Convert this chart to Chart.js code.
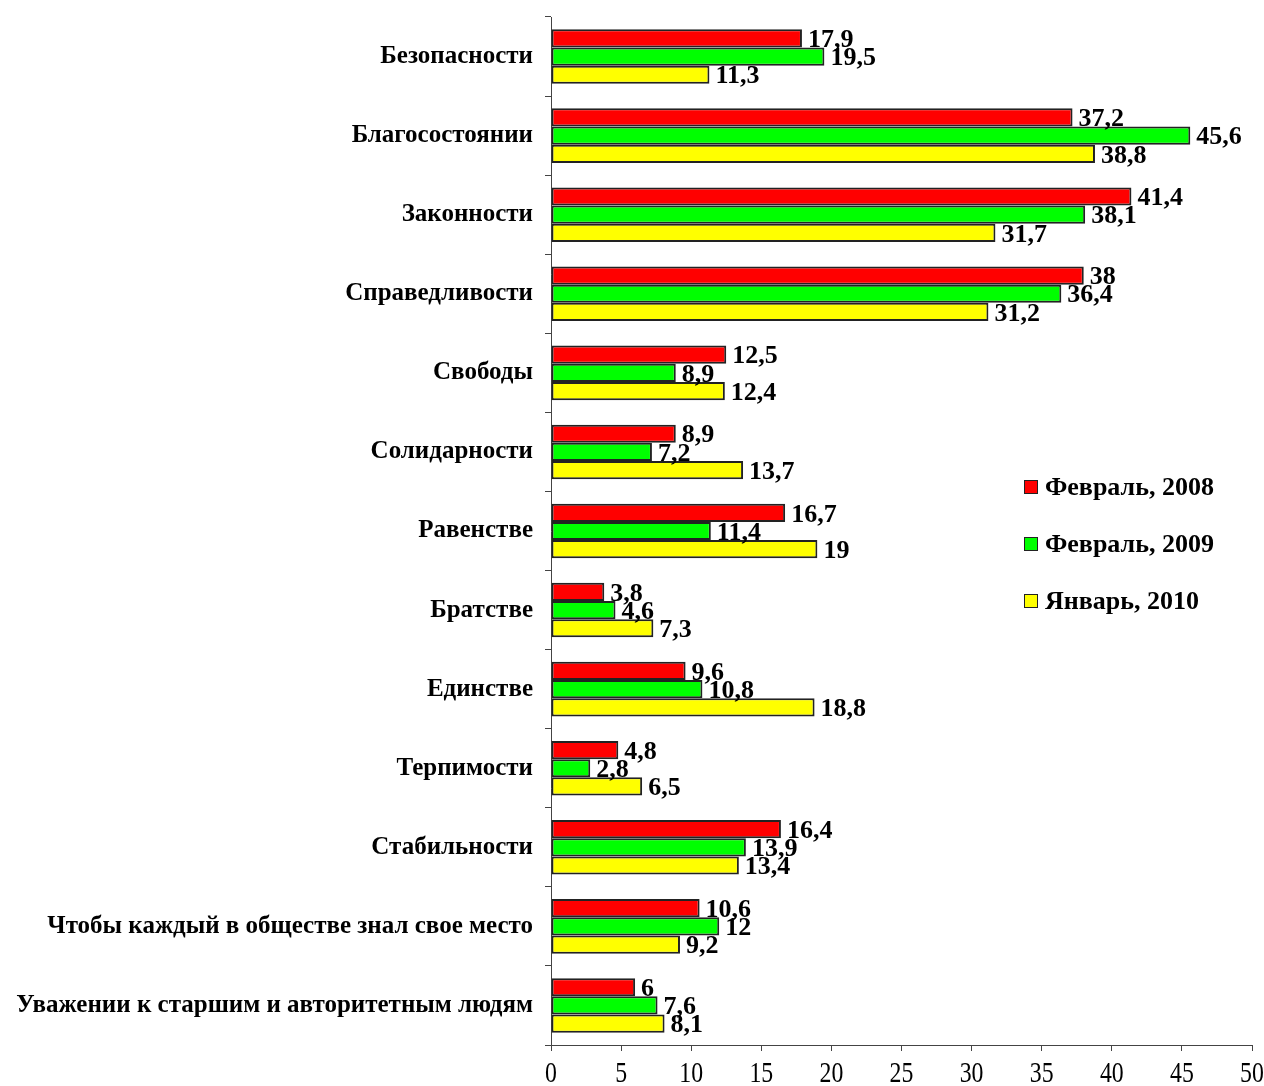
<!DOCTYPE html>
<html>
<head>
<meta charset="utf-8">
<script src="https://cdn.jsdelivr.net/npm/chart.js@4"></script>
<style>
  html, body { margin: 0; padding: 0; background: #fff; }
  #wrap { position: relative; width: 1264px; height: 1086px; }
  #legend { position: absolute; left: 1024px; top: 471px; font: bold 26px "Liberation Serif", serif; color: #000; }
  #legend div { height: 57px; line-height: 32px; white-space: nowrap; }
  #legend span.box { display: inline-block; width: 12px; height: 12px; border: 1.5px solid #222; margin-right: 7px; vertical-align: 1px; }
</style>
</head>
<body>
<div id="wrap">
  <canvas id="chart" width="1264" height="1086"></canvas>
  <div id="legend"></div>
</div>
<script>
const categories = [
  'Безопасности', 'Благосостоянии', 'Законности', 'Справедливости', 'Свободы',
  'Солидарности', 'Равенстве', 'Братстве', 'Единстве', 'Терпимости',
  'Стабильности', 'Чтобы каждый в обществе знал свое место',
  'Уважении к старшим и авторитетным людям'
];
const seriesNames = ['Февраль, 2008', 'Февраль, 2009', 'Январь, 2010'];
const feb2008 = [17.9, 37.2, 41.4, 38, 12.5, 8.9, 16.7, 3.8, 9.6, 4.8, 16.4, 10.6, 6];
const feb2009 = [19.5, 45.6, 38.1, 36.4, 8.9, 7.2, 11.4, 4.6, 10.8, 2.8, 13.9, 12, 7.6];
const jan2010 = [11.3, 38.8, 31.7, 31.2, 12.4, 13.7, 19, 7.3, 18.8, 6.5, 13.4, 9.2, 8.1];
const colors = ['#ff0000', '#00ff00', '#ffff00'];

const ctx = document.getElementById('chart').getContext('2d');

// value labels after each bar, plus narrow x tick labels
const extraText = {
  id: 'extraText',
  afterDatasetsDraw(chart) {
    const c = chart.ctx;
    c.save();
    c.font = 'bold 26px "Liberation Serif", serif';
    c.fillStyle = '#000';
    c.textBaseline = 'middle';
    c.textAlign = 'left';
    chart.data.datasets.forEach((ds, i) => {
      chart.getDatasetMeta(i).data.forEach((bar, j) => {
        const txt = String(ds.data[j]).replace('.', ',');
        c.fillText(txt, bar.x + 6, bar.y + 2);
      });
    });
    c.restore();
  },
  afterDraw(chart) {
    const c = chart.ctx;
    const sx = chart.scales.x;
    c.save();
    c.font = '29px "Liberation Serif", serif';
    c.fillStyle = '#000';
    c.textBaseline = 'middle';
    c.textAlign = 'center';
    sx.ticks.forEach(t => {
      const px = sx.getPixelForValue(t.value);
      c.save();
      c.translate(px, 1074);
      c.scale(0.82, 1);
      c.fillText(String(t.value), 0, 0);
      c.restore();
    });
    c.restore();
  }
};

const data = {
  labels: categories,
  datasets: [feb2008, feb2009, jan2010].map((vals, i) => ({
    label: seriesNames[i],
    data: vals,
    backgroundColor: colors[i],
    borderColor: '#222',
    borderWidth: 2,
    borderSkipped: false,
    categoryPercentage: 0.69,
    barPercentage: 1
  }))
};

const chart = new Chart(ctx, {
  type: 'bar',
  data: data,
  options: {
    indexAxis: 'y',
    responsive: false,
    animation: false,
    layout: { padding: { top: 17, right: 12, left: 0, bottom: 0 } },
    plugins: {
      legend: { display: false },
      tooltip: { enabled: false }
    },
    scales: {
      x: {
        min: 0,
        max: 50,
        ticks: { stepSize: 5, display: false },
        grid: { drawOnChartArea: false, drawTicks: true, tickLength: 6, color: '#444' },
        border: { color: '#444', width: 1 },
        afterFit(scale) { scale.height = 41; }
      },
      y: {
        ticks: {
          color: '#000',
          font: { family: '"Liberation Serif", serif', size: 25, weight: 'bold' },
          padding: 12
        },
        grid: { drawOnChartArea: false, drawTicks: true, tickLength: 6, color: '#444', offset: true },
        border: { color: '#444', width: 1 },
        afterFit(scale) {
          scale.width = 551;
          scale.paddingTop = 0;
          scale.paddingBottom = 0;
        }
      }
    }
  },
  plugins: [extraText]
});

// legend inside the plot, right side
const legendEl = document.getElementById('legend');
seriesNames.forEach((name, i) => {
  const row = document.createElement('div');
  row.innerHTML = '<span class="box" style="background:' + colors[i] + '"></span>' + name;
  legendEl.appendChild(row);
});
</script>
</body>
</html>
